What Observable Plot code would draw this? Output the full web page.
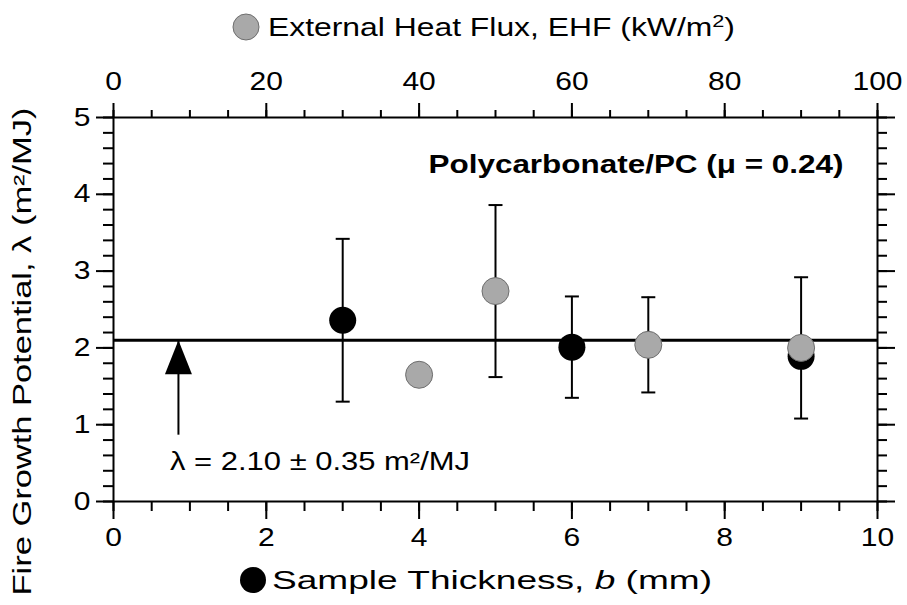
<!DOCTYPE html>
<html><head><meta charset="utf-8">
<script src="https://cdn.jsdelivr.net/npm/d3@7"></script>
<script src="https://cdn.jsdelivr.net/npm/@observablehq/plot@0.6"></script>
<style>
body{margin:0;background:#fff;}
svg{font-family:"Liberation Sans",Arial,Helvetica,sans-serif;}
</style>
</head><body><div id="chart"></div>
<script>
// ---- data ----
const thickness = [3, 6, 9];                 // mm (black dots)
const lambdaThickness = [2.36, 2.01, 1.89];  // m2/MJ
const errThickness = [1.06, 0.66, null];
const ehf = [40, 50, 70, 90];                // kW/m2 (grey dots)
const lambdaEhf = [1.65, 2.74, 2.04, 2.00];
const errEhf = [null, 1.12, 0.62, 0.92];
const lambdaMean = 2.10;
const lambdaSd = 0.35;
const ehfPerMm = 10;                         // top axis 0-100 over bottom 0-10
const xMajorTicks = [0, 2, 4, 6, 8, 10];
const ehfMajorTicks = [0, 20, 40, 60, 80, 100];
const yMajorTicks = [0, 1, 2, 3, 4, 5];
const xMinorTicks = d3.range(0, 10.01, 0.5);
const ehfMinorTicks = d3.range(0, 100.1, 5);
const yMinorTicks = d3.range(0, 5.01, 0.2);
// annotation (arrow and label, data units)
const arrowX = [0.85];
const arrowTail = [0.87];
const noteX = [0.74];
const noteY = [0.51];
const title = "Polycarbonate/PC (\u03bc = 0.24)";
const yLabel = "Fire Growth Potential, \u03bb (m\u00b2/MJ)";
const note = `\u03bb = ${lambdaMean.toFixed(2)} \u00b1 ${lambdaSd.toFixed(2)} m\u00b2/MJ`;

const black = thickness.map((x, i) => ({x, y: lambdaThickness[i], e: errThickness[i]}));
const grey = ehf.map((v, i) => ({x: v / ehfPerMm, y: lambdaEhf[i], e: errEhf[i]}));
const errs = [...black, ...grey].filter(d => d.e != null);
const arrow = arrowX.map((x, i) => ({x, y1: arrowTail[i], y2: lambdaMean}));

const capSymbol = {draw(ctx) { ctx.moveTo(-7, 0); ctx.lineTo(7, 0); }};
const headSymbol = {draw(ctx) { ctx.moveTo(0, -17); ctx.lineTo(13.5, 17); ctx.lineTo(-13.5, 17); ctx.closePath(); }};
const blank = () => "";

const svg = Plot.plot({
  width: 907, height: 605,
  marginTop: 117, marginBottom: 104, marginLeft: 113, marginRight: 30,
  x: {domain: [0, 10], label: null},
  y: {domain: [0, 5], label: null},
  style: {fontFamily: '"Liberation Sans", Arial, sans-serif', fontSize: "25px", color: "black", background: "white", overflow: "visible"},
  marks: [
    Plot.ruleY([lambdaMean], {strokeWidth: 3}),
    Plot.ruleX(errs, {x: "x", y1: d => d.y - d.e, y2: d => d.y + d.e, strokeWidth: 2}),
    Plot.dot(errs, {x: "x", y: d => d.y - d.e, symbol: capSymbol, r: 7, stroke: "black", strokeWidth: 2}),
    Plot.dot(errs, {x: "x", y: d => d.y + d.e, symbol: capSymbol, r: 7, stroke: "black", strokeWidth: 2}),
    Plot.link(arrow, {x1: "x", x2: "x", y1: "y1", y2: "y2", strokeWidth: 2}),
    Plot.dot(arrow, {x: "x", y: "y2", symbol: headSymbol, r: 10, fill: "black", dy: 17}),
    Plot.dot(black, {x: "x", y: "y", r: 13.5, fill: "black"}),
    Plot.dot(grey, {x: "x", y: "y", r: 13.5, fill: "#a9a9a9", stroke: "#6e6e6e", strokeWidth: 1}),
    Plot.text([note], {x: noteX, y: noteY, text: d => d, textAnchor: "start"}),
    Plot.text([title], {frameAnchor: "top-right", dx: -34, dy: 38, fontWeight: "bold", textAnchor: "end"}),
    Plot.text([yLabel], {frameAnchor: "left", textAnchor: "middle", rotate: -90, dx: -91, dy: 42}),
    Plot.frame({strokeWidth: 2}),
    Plot.axisY(yMajorTicks, {anchor: "left", tickSize: 17, tickPadding: 6, strokeWidth: 2, label: null, tickFormat: d => String(d)}),
    Plot.axisY(yMinorTicks, {anchor: "left", tickSize: 10, tickFormat: blank, strokeWidth: 2, label: null}),
    Plot.axisY(yMajorTicks, {anchor: "right", tickSize: 17, tickFormat: blank, strokeWidth: 2, label: null}),
    Plot.axisY(yMinorTicks, {anchor: "right", tickSize: 9, tickFormat: blank, strokeWidth: 2, label: null}),
    Plot.axisX(xMajorTicks, {anchor: "bottom", tickSize: 18, tickPadding: 9, strokeWidth: 2, label: null, tickFormat: d => String(d)}),
    Plot.axisX(xMinorTicks, {anchor: "bottom", tickSize: 10, tickFormat: blank, strokeWidth: 2, label: null}),
    Plot.axisX(ehfMajorTicks.map(v => v / ehfPerMm), {anchor: "top", tickSize: 15, tickPadding: 13, strokeWidth: 2, label: null, tickFormat: d => String(Math.round(d * ehfPerMm))}),
    Plot.axisX(ehfMinorTicks.map(v => v / ehfPerMm), {anchor: "top", tickSize: 8, tickFormat: blank, strokeWidth: 2, label: null})
  ]
});
document.getElementById("chart").appendChild(svg);

// ---- legends (series keys) above and below the plot ----
const sel = d3.select(svg);
const topKey = sel.append("g");
topKey.append("circle").attr("cx", 246).attr("cy", 27).attr("r", 13).attr("fill", "#a9a9a9").attr("stroke", "#6e6e6e");
const t1 = topKey.append("text").attr("x", 268).attr("y", 27).attr("dy", "0.36em").attr("font-size", 25)
  .attr("fill", "black").attr("text-anchor", "start").attr("data-w", 467);
t1.append("tspan").text("External Heat Flux, EHF (kW/m");
t1.append("tspan").attr("font-size", 17).attr("dy", -9).text("2");
t1.append("tspan").attr("dy", 9).text(")");
const botKey = sel.append("g");
botKey.append("circle").attr("cx", 253).attr("cy", 580).attr("r", 13).attr("fill", "black");
const t2 = botKey.append("text").attr("x", 272).attr("y", 580).attr("dy", "0.36em").attr("font-size", 25)
  .attr("fill", "black").attr("text-anchor", "start").attr("data-w", 440);
t2.append("tspan").text("Sample Thickness, ");
t2.append("tspan").attr("font-style", "italic").text("b");
t2.append("tspan").text(" (mm)");

// the reference typeface is noticeably wider than Liberation Sans: widen each text in place
const stretch = 1.2;
const targetWidth = new Map([[title, 415], [yLabel, 488], [note, 300]]);
sel.selectAll("text").each(function() {
  const L = this.getComputedTextLength();
  if (!(L > 0)) return;
  const b0 = this.getBBox();
  const anchor = getComputedStyle(this).textAnchor;
  const target = this.getAttribute("data-w") ? +this.getAttribute("data-w")
    : targetWidth.has(this.textContent) ? targetWidth.get(this.textContent) : L * stretch;
  this.setAttribute("textLength", target);
  this.setAttribute("lengthAdjust", "spacingAndGlyphs");
  const b1 = this.getBBox();
  let shift;
  if (anchor === "middle") shift = (b0.x + b0.width / 2) - (b1.x + b1.width / 2);
  else if (anchor === "end") shift = (b0.x + b0.width) - (b1.x + b1.width);
  else shift = b0.x - b1.x;
  if (Math.abs(shift) > 0.1) this.setAttribute("x", (+this.getAttribute("x") || 0) + shift);
});
</script>
</body></html>
